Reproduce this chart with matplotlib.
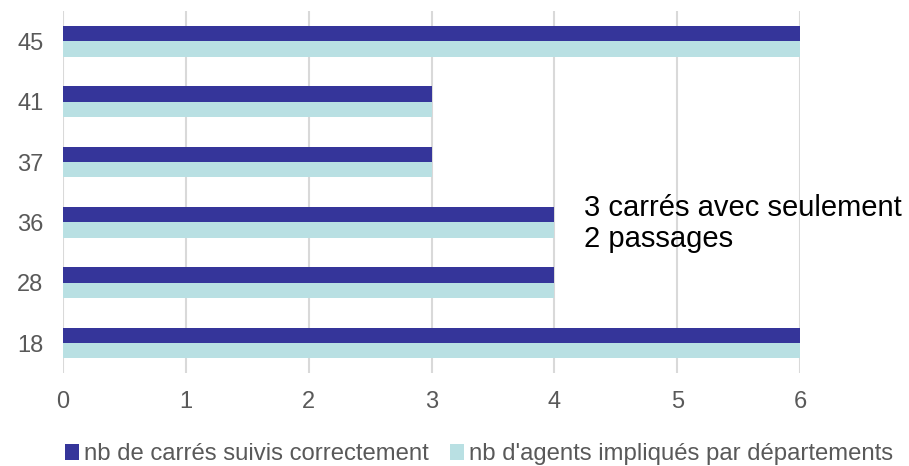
import matplotlib.pyplot as plt
import numpy as np

plt.rcParams.update({
    "font.family": ["Liberation Sans", "DejaVu Sans"],
    "font.size": 13,
})

departements = ["18", "28", "36", "37", "41", "45"]
carres_suivis = [6, 4, 4, 3, 3, 6]
agents_impliques = [6, 4, 4, 3, 3, 6]

dark = "#35359A"
light = "#B9E0E3"
grey_txt = "#595959"

fig = plt.figure(figsize=(9.09, 4.66), dpi=100)
ax = fig.add_axes([0.0693, 0.199, 0.8108, 0.777])

y = np.arange(len(departements))
h = 0.255
ax.barh(y + h / 2, carres_suivis, height=h, color=dark, label="nb de carrés suivis correctement", zorder=3)
ax.barh(y - h / 2, agents_impliques, height=h, color=light, label="nb d'agents impliqués par départements", zorder=3)

ax.set_xlim(0, 6)
ax.set_ylim(-0.5, len(departements) - 0.5)
ax.set_xticks(range(0, 7))
ax.set_yticks(y)
ax.set_yticklabels(departements)
ax.xaxis.grid(True, color="#D9D9D9", linewidth=1.5, zorder=0)
ax.set_axisbelow(True)
for s in ax.spines.values():
    s.set_visible(False)
ax.tick_params(axis="both", length=0, colors=grey_txt, labelsize=17)
ax.tick_params(axis="x", pad=13)
ax.tick_params(axis="y", pad=14)

fig.text(0.643, 0.52, "3 carrés avec seulement\n2 passages", fontsize=21,
         color="black", ha="left", va="center", linespacing=1.15)

fig.legend(loc="lower center", bbox_to_anchor=(0.527, -0.045), ncol=2, frameon=False,
           handlelength=0.6, handleheight=0.6, handletextpad=0.2, columnspacing=0.9,
           fontsize=17.2, labelcolor=grey_txt)

fig.savefig("out.png", dpi=100)
